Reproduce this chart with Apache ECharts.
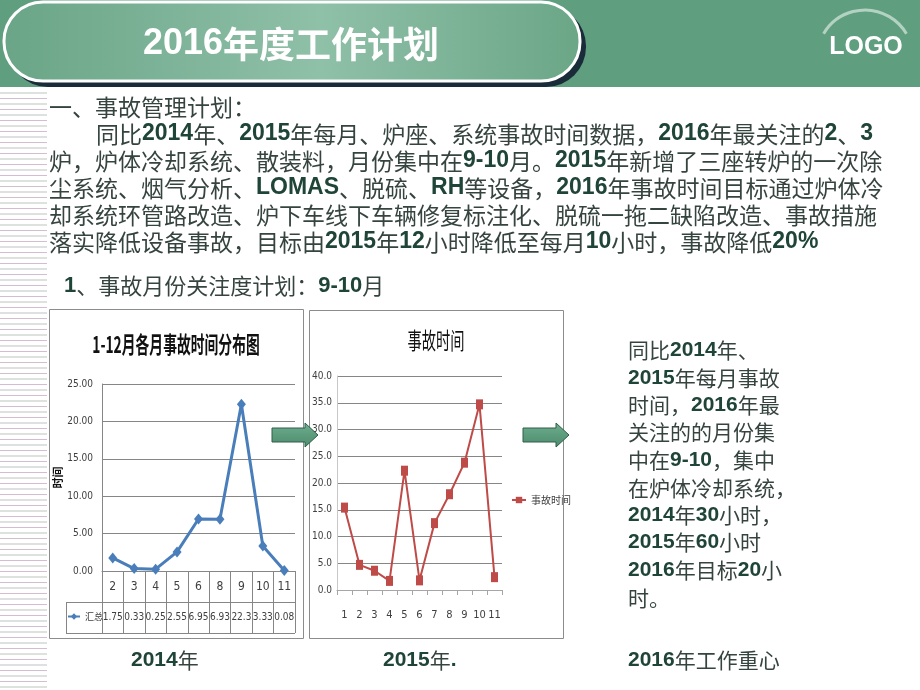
<!DOCTYPE html>
<html><head><meta charset="utf-8">
<script src="https://cdn.jsdelivr.net/npm/echarts@6/dist/echarts.min.js"></script>
<style>html,body{margin:0;padding:0;background:#fff}#c{width:920px;height:690px}</style>
</head><body><div id="c"></div>
<script>
// ---- data ----
const months2014 = ['2','3','4','5','6','8','9','10','11'];
const hours2014 = [1.75, 0.33, 0.25, 2.55, 6.95, 6.93, 22.3, 3.33, 0.08];
const hours2014Table = ['1.75','0.33','0.25','2.55','6.95','6.93','22.3','3.33','0.08'];
const series2014Name = '汇总';
const months2015 = ['1','2','3','4','5','6','7','8','9','10','11'];
const hours2015 = [15.4, 4.7, 3.6, 1.7, 22.3, 1.8, 12.5, 17.9, 23.8, 34.7, 2.4];
const series2015Name = '事故时间';
const title2014 = '1-12月各月事故时间分布图';
const title2015 = '事故时间';
const pageTitle = '2016年度工作计划';
const bodyLines = [
  '一、事故管理计划：',
  '同比2014年、2015年每月、炉座、系统事故时间数据，2016年最关注的2、3',
  '炉，炉体冷却系统、散装料，月份集中在9-10月。2015年新增了三座转炉的一次除',
  '尘系统、烟气分析、LOMAS、脱硫、RH等设备，2016年事故时间目标通过炉体冷',
  '却系统环管路改造、炉下车线下车辆修复标注化、脱硫一拖二缺陷改造、事故措施',
  '落实降低设备事故，目标由2015年12小时降低至每月10小时，事故降低20%'
];
const subHeading = '1、事故月份关注度计划：9-10月';
const sideLines = ['同比2014年、','2015年每月事故','时间，2016年最','关注的的月份集','中在9-10，集中','在炉体冷却系统，','2014年30小时，','2015年60小时','2016年目标20小','时。'];
const captions = ['2014年','2015年.','2016年工作重心'];

// ---- helpers ----
const TXT = '#36443f';
function rich(s){ return s.replace(/([0-9A-Za-z%\.\-]+)/g, '{d|$1}'); }
function txt(str, x, y, size, extra){
  return Object.assign({
    type:'text', x:x, y:y, z:20,
    style:{text:rich(str), fontSize:size, fontFamily:'"Noto Sans CJK SC"', fill:TXT,
      verticalAlign:'middle', align:'left',
      rich:{d:{fontSize:size, fontFamily:'"Liberation Sans", Arial, sans-serif', fontWeight:'bold', fill:'#1f4438'}}}
  }, extra||{});
}

const g = [];
// header
g.push({type:'rect', z:1, shape:{x:0,y:0,width:920,height:87}, style:{fill:'#5f9e7e'}});
g.push({type:'rect', z:2, shape:{x:8,y:6,width:578,height:81,r:40}, style:{fill:'#1a2b3a'}});
g.push({type:'rect', z:3, shape:{x:4,y:2,width:576,height:79,r:39},
  style:{fill:new echarts.graphic.LinearGradient(0,0,1,0,[{offset:0,color:'#6aa587'},{offset:0.55,color:'#8fc0a8'},{offset:1,color:'#6ba687'}]), stroke:'#ffffff', lineWidth:3}});
g.push({type:'text', z:5, x:291, y:44, style:{text:rich(pageTitle), fontSize:36, fontWeight:'bold', fontFamily:'"Noto Sans CJK SC"', fill:'#fff', align:'center', verticalAlign:'middle',
  rich:{d:{fontSize:36, fontWeight:'bold', fontFamily:'"Liberation Sans"', fill:'#fff'}}}});
g.push({type:'arc', z:4, shape:{cx:865, cy:58, r:48, startAngle:-2.61, endAngle:-0.53}, style:{stroke:'rgba(235,245,240,0.6)', lineWidth:3, fill:null}});
g.push({type:'text', z:5, x:866, y:47, style:{text:'LOGO', fontSize:25, fontWeight:'bold', fontFamily:'"Liberation Sans"', fill:'#fff', align:'center', verticalAlign:'middle'}});
// left stripes
for (let i=0, y=93; y<690; i++, y+=5.5){
  g.push({type:'line', z:1, shape:{x1:0,y1:y,x2:47,y2:y}, style:{stroke: i%2 ? '#d2bed0' : '#bcc5bf', lineWidth:1}});
}
// chart boxes
g.push({type:'rect', z:0, shape:{x:49.5,y:309.5,width:254,height:329}, style:{fill:'#fff', stroke:'#8c8c8c', lineWidth:1}});
g.push({type:'rect', z:0, shape:{x:309.5,y:310.5,width:254,height:328}, style:{fill:'#fff', stroke:'#8c8c8c', lineWidth:1}});
// data table borders (left chart)
g.push({type:'line', z:3, shape:{x1:66,y1:602.5,x2:295,y2:602.5}, style:{stroke:'#868686', lineWidth:1}});
g.push({type:'line', z:3, shape:{x1:66,y1:633.5,x2:295,y2:633.5}, style:{stroke:'#868686', lineWidth:1}});
g.push({type:'line', z:3, shape:{x1:66.5,y1:602,x2:66.5,y2:634}, style:{stroke:'#868686', lineWidth:1}});
// chart titles
g.push({type:'text', z:10, x:176, y:344, scaleX:0.6, style:{text:title2014, fontSize:23, fontWeight:'bold', fontFamily:'"Noto Sans CJK SC"', fill:'#111', align:'center', verticalAlign:'middle'}});
g.push({type:'text', z:10, x:436, y:340, scaleX:0.62, style:{text:title2015, fontSize:23, fontFamily:'"Noto Sans CJK SC"', fill:'#111', align:'center', verticalAlign:'middle'}});
// arrows
function arrow(x0, x1, x2){
  return {type:'polygon', z:30, shape:{points:[[x0,428],[x1,428],[x1,423],[x2,435],[x1,447],[x1,442],[x0,442]]},
    style:{fill:new echarts.graphic.LinearGradient(0,0,0,1,[{offset:0,color:'#6fae8e'},{offset:1,color:'#4b8b6c'}]), stroke:'#2f5e4a', lineWidth:1}};
}
g.push(arrow(272,305,318));
g.push(arrow(523,556,569));
// body text
const bodyY = [107,134,161,188,215,242];
bodyLines.forEach((s,i)=>g.push(txt(s, i===1?96:49, bodyY[i], 23)));
g.push(txt(subHeading, 64, 286, 22));
const sideY = [350,378,405,432,460,488,515,542,570,598];
sideLines.forEach((s,i)=>g.push(txt(s, 628, sideY[i], 21)));
g.push(txt(captions[0], 131, 660, 21));
g.push(txt(captions[1], 383, 660, 21));
g.push(txt(captions[2], 628, 660, 21));

const narrow = '"DejaVu Sans Condensed", "Liberation Sans Narrow", "Liberation Sans", Arial, sans-serif';
const chart = echarts.init(document.getElementById('c'));
chart.setOption({
  animation:false,
  backgroundColor:'#ffffff',
  graphic:g,
  grid:[
    {left:102, top:384, width:193, height:187},
    {left:337, top:376, width:165, height:214}
  ],
  xAxis:[
    {type:'category', gridIndex:0, data:months2014, boundaryGap:true, z:10,
     axisLine:{lineStyle:{color:'#868686'}},
     axisTick:{show:true, length:62, interval:0, lineStyle:{color:'#868686'}},
     axisLabel:{margin:10, fontSize:12, color:'#404040', fontFamily:narrow, interval:0}},
    {type:'category', gridIndex:0, position:'bottom', offset:40, data:hours2014Table, z:10,
     axisLine:{show:false}, axisTick:{show:false},
     axisLabel:{margin:1, fontSize:10, color:'#404040', fontFamily:narrow, interval:0}},
    {type:'category', gridIndex:1, data:months2015, boundaryGap:true, z:10,
     axisLine:{lineStyle:{color:'#a6a6a6'}},
     axisTick:{show:true, length:5, interval:0, lineStyle:{color:'#a6a6a6'}},
     axisLabel:{margin:20, fontSize:11, color:'#404040', fontFamily:narrow, interval:0}}
  ],
  yAxis:[
    {type:'value', gridIndex:0, min:0, max:25, interval:5, z:10,
     name:'时间', nameLocation:'middle', nameRotate:90, nameGap:37,
     nameTextStyle:{fontSize:11, fontWeight:'bold', color:'#111', fontFamily:'"Noto Sans CJK SC"'},
     axisLine:{show:true, lineStyle:{color:'#868686'}}, axisTick:{show:false},
     axisLabel:{margin:9, fontSize:10, color:'#404040', fontFamily:narrow, formatter:v=>v.toFixed(2)},
     splitLine:{lineStyle:{color:'#868686'}}},
    {type:'value', gridIndex:1, min:0, max:40, interval:5, z:10,
     axisLine:{show:true, lineStyle:{color:'#c8c8c8'}}, axisTick:{show:false},
     axisLabel:{margin:5, fontSize:10, color:'#404040', fontFamily:narrow, formatter:v=>v.toFixed(1)},
     splitLine:{lineStyle:{color:'#868686'}}}
  ],
  legend:[
    {data:[series2014Name], left:67, top:612, padding:0, itemWidth:12, itemHeight:8, z:12,
     textStyle:{fontSize:9, color:'#404040', fontFamily:'"Noto Sans CJK SC"'}},
    {data:[series2015Name], left:511, top:495, padding:0, itemWidth:14, itemHeight:8, z:12,
     textStyle:{fontSize:10, color:'#404040', fontFamily:'"Noto Sans CJK SC"'}}
  ],
  series:[
    {name:series2014Name, type:'line', xAxisIndex:0, yAxisIndex:0, data:hours2014,
     symbol:'diamond', symbolSize:[9,11], showAllSymbol:true,
     lineStyle:{color:'#4a7ebb', width:3}, itemStyle:{color:'#4a7ebb'}, z:15},
    {name:series2015Name, type:'line', xAxisIndex:2, yAxisIndex:1, data:hours2015,
     symbol:'rect', symbolSize:[7,10], showAllSymbol:true,
     lineStyle:{color:'#be4b48', width:2}, itemStyle:{color:'#be4b48'}, z:15}
  ]
});
</script></body></html>
